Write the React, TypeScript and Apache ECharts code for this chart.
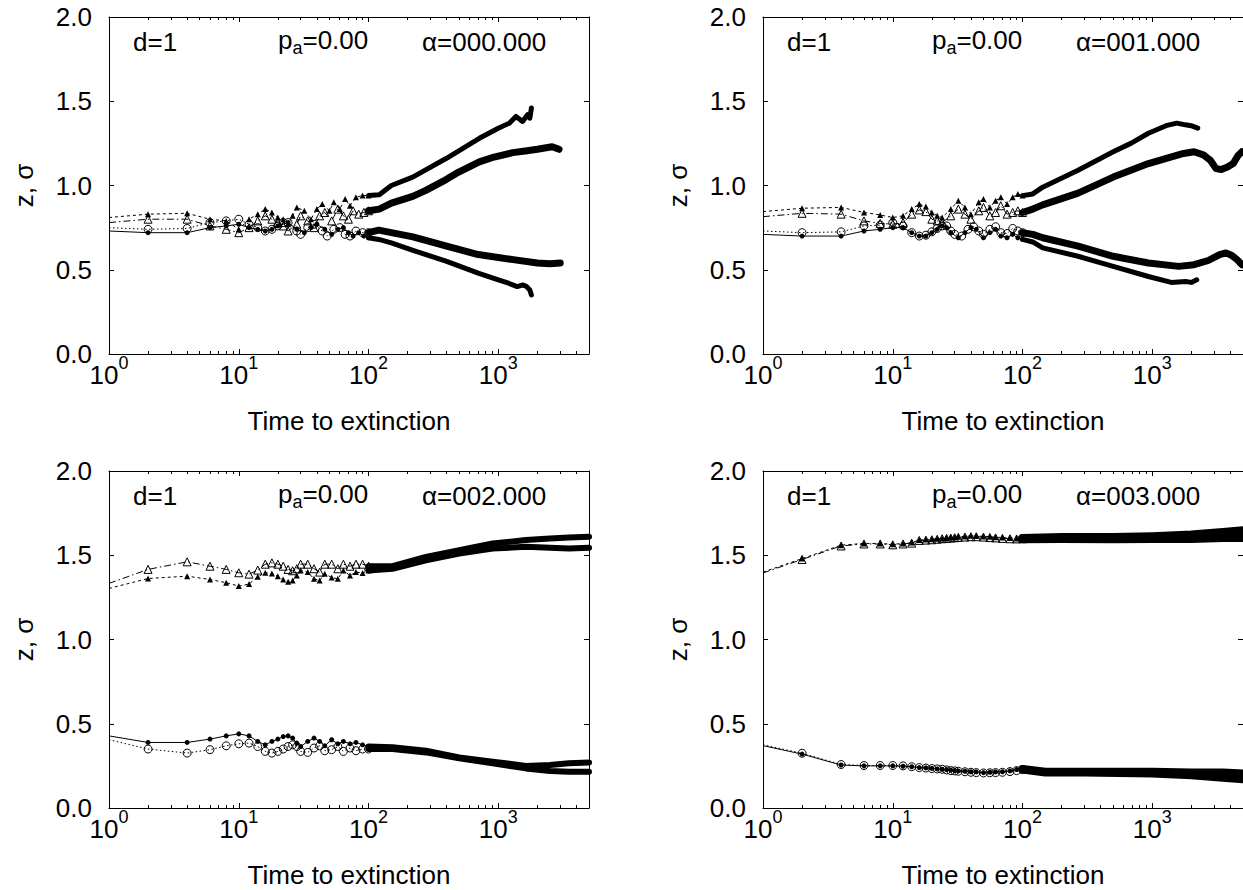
import React, { useEffect, useRef } from "react";
import * as echarts from "echarts";

type Pt = [number, number];

// ---------- tick values ----------
const xMajorTicks = [1, 10, 100, 1000];
const xMinorTicks = [2, 3, 4, 5, 6, 7, 8, 9, 20, 30, 40, 50, 60, 70, 80, 90, 200, 300, 400, 500, 600, 700, 800, 900, 2000, 3000, 4000];
const xMin = 1;
const xMax = 5000;
const yTicks = [0, 0.5, 1.0, 1.5, 2.0];
const alphaLabels = ["000.000", "001.000", "002.000", "003.000"];

// ---------- panel alpha = 0 (top left) ----------
const tlFcHead: Pt[] = [[1,0.73],[2,0.72],[4,0.72],[6,0.75],[8,0.76],[10,0.77],[12,0.75],[14,0.74],[16,0.73],[18,0.74],[20,0.76],[24,0.78],[28,0.74],[32,0.72],[36,0.75],[40,0.77],[46,0.74],[52,0.71],[58,0.74],[64,0.75],[70,0.72],[76,0.70],[84,0.72],[92,0.70],[100,0.69]];
const tlFcTail: Pt[] = [[100,0.69],[120,0.68],[150,0.66],[220,0.615],[400,0.55],[700,0.48],[1000,0.44],[1200,0.42],[1400,0.40],[1550,0.41],[1650,0.40],[1750,0.38],[1800,0.35]];
const tlOcHead: Pt[] = [[1,0.75],[2,0.74],[4,0.745],[6,0.78],[8,0.79],[10,0.80],[12,0.77],[14,0.75],[16,0.73],[18,0.74],[20,0.76],[22,0.78],[24,0.78],[28,0.73],[30,0.71],[34,0.75],[38,0.77],[44,0.73],[48,0.70],[54,0.74],[60,0.75],[66,0.71],[72,0.70],[80,0.73],[90,0.72],[100,0.72]];
const tlOcTail: Pt[] = [[100,0.72],[120,0.735],[150,0.72],[220,0.695],[400,0.64],[700,0.59],[1300,0.56],[2000,0.54],[2500,0.535],[3000,0.54]];
const tlFtHead: Pt[] = [[1,0.81],[2,0.83],[4,0.835],[6,0.80],[8,0.79],[10,0.74],[12,0.80],[14,0.83],[16,0.86],[18,0.84],[20,0.81],[22,0.80],[24,0.77],[26,0.82],[28,0.87],[32,0.85],[36,0.80],[40,0.86],[44,0.89],[50,0.85],[54,0.90],[60,0.86],[66,0.92],[72,0.88],[80,0.93],[90,0.94],[100,0.94]];
const tlFtTail: Pt[] = [[100,0.94],[121,0.945],[150,1.0],[219,1.05],[396,1.16],[714,1.28],[1000,1.34],[1216,1.37],[1368,1.41],[1538,1.38],[1681,1.42],[1750,1.40],[1800,1.46]];
const tlOtHead: Pt[] = [[1,0.78],[2,0.80],[4,0.80],[6,0.76],[8,0.74],[10,0.72],[12,0.75],[14,0.79],[16,0.82],[18,0.80],[20,0.78],[22,0.76],[24,0.73],[28,0.77],[30,0.82],[34,0.79],[38,0.75],[42,0.82],[46,0.84],[52,0.79],[58,0.86],[64,0.82],[70,0.80],[76,0.85],[84,0.83],[92,0.84],[100,0.85]];
const tlOtTail: Pt[] = [[100,0.85],[121,0.86],[150,0.895],[219,0.935],[274,0.97],[396,1.035],[495,1.08],[714,1.14],[893,1.165],[1290,1.195],[1616,1.205],[2000,1.215],[2600,1.23],[2940,1.215]];

// ---------- panel alpha = 1 (top right) ----------
const trFcHead: Pt[] = [[1,0.71],[2,0.70],[4,0.70],[6,0.73],[8,0.74],[10,0.75],[12,0.75],[14,0.72],[16,0.70],[18,0.70],[20,0.72],[22,0.74],[24,0.76],[26,0.75],[28,0.72],[32,0.69],[36,0.72],[40,0.75],[44,0.74],[50,0.69],[56,0.72],[62,0.74],[68,0.70],[76,0.69],[84,0.71],[92,0.69],[100,0.68]];
const trFcTail: Pt[] = [[100,0.68],[120,0.665],[143,0.63],[268,0.58],[500,0.52],[933,0.46],[1400,0.425],[1800,0.43],[2000,0.425],[2200,0.44]];
const trOcHead: Pt[] = [[1,0.73],[2,0.72],[4,0.725],[6,0.76],[8,0.765],[10,0.78],[12,0.76],[14,0.72],[16,0.70],[18,0.705],[20,0.725],[22,0.745],[24,0.76],[26,0.76],[28,0.73],[30,0.71],[34,0.70],[38,0.74],[42,0.755],[46,0.73],[50,0.71],[56,0.74],[62,0.755],[68,0.72],[76,0.715],[84,0.745],[92,0.73],[100,0.72]];
const trOcTail: Pt[] = [[100,0.72],[120,0.71],[143,0.69],[268,0.64],[500,0.58],[933,0.54],[1600,0.52],[2100,0.53],[2700,0.555],[3300,0.59],[3700,0.60],[4100,0.585],[4500,0.56],[4900,0.53]];
const trFtHead: Pt[] = [[1,0.845],[2,0.865],[4,0.87],[6,0.84],[8,0.825],[10,0.81],[12,0.82],[14,0.86],[16,0.89],[18,0.875],[20,0.84],[22,0.82],[24,0.81],[28,0.86],[32,0.91],[36,0.87],[40,0.83],[46,0.90],[50,0.92],[56,0.87],[62,0.91],[68,0.93],[76,0.89],[84,0.93],[92,0.95],[100,0.94]];
const trFtTail: Pt[] = [[100,0.94],[120,0.95],[143,0.99],[268,1.09],[500,1.20],[683,1.25],[933,1.31],[1276,1.355],[1544,1.37],[1800,1.36],[1990,1.355],[2240,1.34]];
const trOtHead: Pt[] = [[1,0.815],[2,0.835],[4,0.83],[6,0.79],[8,0.775],[10,0.77],[12,0.78],[14,0.83],[16,0.855],[18,0.845],[20,0.80],[22,0.79],[24,0.78],[28,0.82],[32,0.86],[36,0.83],[40,0.80],[46,0.85],[50,0.87],[56,0.82],[62,0.84],[68,0.88],[76,0.83],[84,0.84],[92,0.85],[100,0.84]];
const trOtTail: Pt[] = [[100,0.84],[120,0.86],[143,0.885],[268,0.955],[500,1.05],[933,1.13],[1740,1.19],[2100,1.20],[2500,1.18],[2800,1.15],[3100,1.10],[3400,1.095],[3800,1.11],[4200,1.13],[4600,1.18],[4900,1.20]];

// ---------- panel alpha = 2 (bottom left) ----------
const blFcHead: Pt[] = [[1,0.428],[2,0.389],[4,0.389],[6,0.409],[8,0.428],[10,0.44],[12,0.428],[14,0.395],[16,0.375],[18,0.395],[20,0.409],[22,0.424],[24,0.428],[26,0.415],[28,0.385],[30,0.365],[34,0.395],[38,0.415],[42,0.395],[46,0.369],[52,0.405],[58,0.381],[64,0.395],[72,0.381],[80,0.389],[90,0.375],[100,0.365]];
const blFcTail: Pt[] = [[100,0.365],[153,0.36],[277,0.34],[500,0.30],[904,0.275],[1633,0.25],[2500,0.255],[3500,0.265],[5000,0.27]];
const blOcHead: Pt[] = [[1,0.405],[2,0.35],[4,0.326],[6,0.346],[8,0.369],[10,0.381],[12,0.385],[14,0.365],[16,0.336],[18,0.326],[20,0.336],[22,0.35],[24,0.365],[26,0.375],[28,0.365],[30,0.336],[34,0.33],[38,0.356],[42,0.369],[46,0.34],[52,0.346],[58,0.365],[64,0.336],[72,0.356],[80,0.34],[90,0.35],[100,0.35]];
const blOcTail: Pt[] = [[100,0.35],[153,0.35],[277,0.33],[500,0.295],[904,0.265],[1633,0.235],[2500,0.22],[3500,0.215],[5000,0.215]];
const blFtHead: Pt[] = [[1,1.303],[2,1.362],[4,1.376],[6,1.356],[8,1.337],[10,1.317],[12,1.329],[14,1.372],[16,1.396],[18,1.392],[20,1.376],[22,1.356],[24,1.343],[26,1.35],[28,1.38],[30,1.41],[34,1.40],[38,1.36],[42,1.35],[46,1.39],[52,1.368],[58,1.36],[64,1.41],[72,1.38],[80,1.40],[90,1.395],[100,1.41]];
const blFtTail: Pt[] = [[100,1.41],[153,1.42],[277,1.47],[500,1.51],[904,1.54],[1633,1.55],[2500,1.545],[3500,1.54],[5000,1.545]];
const blOtHead: Pt[] = [[1,1.333],[2,1.416],[4,1.461],[6,1.435],[8,1.416],[10,1.396],[12,1.388],[14,1.412],[16,1.447],[18,1.455],[20,1.447],[22,1.435],[24,1.416],[26,1.408],[28,1.42],[30,1.447],[34,1.447],[38,1.42],[42,1.40],[46,1.447],[52,1.447],[58,1.42],[64,1.447],[72,1.435],[80,1.447],[90,1.447],[100,1.435]];
const blOtTail: Pt[] = [[100,1.435],[153,1.435],[277,1.49],[500,1.53],[904,1.57],[1633,1.59],[2500,1.60],[3500,1.605],[5000,1.61]];

// ---------- panel alpha = 3 (bottom right) ----------
const brFcHead: Pt[] = [[1,0.37],[2,0.32],[4,0.255],[6,0.25],[8,0.25],[10,0.25],[12,0.248],[14,0.245],[16,0.24],[18,0.238],[20,0.235],[22,0.232],[24,0.23],[26,0.228],[28,0.225],[30,0.222],[32,0.22],[36,0.218],[40,0.215],[44,0.214],[50,0.21],[56,0.212],[62,0.214],[70,0.215],[80,0.22],[90,0.228],[100,0.232]];
const brFcTail: Pt[] = [[100,0.232],[150,0.215],[300,0.215],[1000,0.215],[2000,0.21],[3500,0.21],[5000,0.205]];
const brOcHead: Pt[] = [[1,0.375],[2,0.325],[4,0.258],[6,0.252],[8,0.252],[10,0.252],[12,0.25],[14,0.245],[16,0.24],[18,0.237],[20,0.234],[22,0.232],[24,0.23],[26,0.226],[28,0.222],[30,0.22],[32,0.218],[36,0.215],[40,0.212],[44,0.21],[50,0.208],[56,0.209],[62,0.21],[70,0.212],[80,0.216],[90,0.222],[100,0.228]];
const brOcTail: Pt[] = [[100,0.228],[150,0.21],[300,0.21],[1000,0.205],[2000,0.195],[3500,0.18],[5000,0.17]];
const brFtHead: Pt[] = [[1,1.40],[2,1.48],[4,1.56],[6,1.57],[8,1.57],[10,1.565],[12,1.57],[14,1.575],[16,1.59],[18,1.593],[20,1.595],[22,1.598],[24,1.60],[26,1.602],[28,1.605],[30,1.607],[32,1.61],[36,1.612],[40,1.615],[44,1.614],[50,1.612],[56,1.61],[62,1.607],[70,1.605],[80,1.602],[90,1.60],[100,1.60]];
const brFtTail: Pt[] = [[100,1.60],[200,1.605],[500,1.605],[1000,1.61],[2000,1.62],[3500,1.635],[5000,1.645]];
const brOtHead: Pt[] = [[1,1.395],[2,1.475],[4,1.555],[6,1.567],[8,1.567],[10,1.562],[12,1.567],[14,1.572],[16,1.588],[18,1.59],[20,1.592],[22,1.595],[24,1.598],[26,1.6],[28,1.602],[30,1.604],[32,1.606],[36,1.608],[40,1.61],[44,1.61],[50,1.608],[56,1.605],[62,1.603],[70,1.60],[80,1.598],[90,1.597],[100,1.598]];
const brOtTail: Pt[] = [[100,1.598],[200,1.60],[500,1.598],[1000,1.60],[2000,1.60],[3500,1.605],[5000,1.605]];

const FONT = "'Liberation Sans', Arial, Helvetica, sans-serif";

type Curve = { head: Pt[]; tail: Pt[]; kind: "fc" | "oc" | "ft" | "ot"; w: number };
type Panel = { left: number; top: number; curves: Curve[] };

const panels: Panel[] = [
  { left: 109, top: 17, curves: [
    { head: tlFcHead, tail: tlFcTail, kind: "fc", w: 5 },
    { head: tlOcHead, tail: tlOcTail, kind: "oc", w: 7 },
    { head: tlFtHead, tail: tlFtTail, kind: "ft", w: 5 },
    { head: tlOtHead, tail: tlOtTail, kind: "ot", w: 7 },
  ] },
  { left: 763, top: 17, curves: [
    { head: trFcHead, tail: trFcTail, kind: "fc", w: 5 },
    { head: trOcHead, tail: trOcTail, kind: "oc", w: 7 },
    { head: trFtHead, tail: trFtTail, kind: "ft", w: 5 },
    { head: trOtHead, tail: trOtTail, kind: "ot", w: 7 },
  ] },
  { left: 109, top: 471, curves: [
    { head: blFcHead, tail: blFcTail, kind: "fc", w: 6 },
    { head: blOcHead, tail: blOcTail, kind: "oc", w: 6 },
    { head: blFtHead, tail: blFtTail, kind: "ft", w: 6 },
    { head: blOtHead, tail: blOtTail, kind: "ot", w: 6 },
  ] },
  { left: 763, top: 471, curves: [
    { head: brFcHead, tail: brFcTail, kind: "fc", w: 8 },
    { head: brOcHead, tail: brOcTail, kind: "oc", w: 8 },
    { head: brFtHead, tail: brFtTail, kind: "ft", w: 9 },
    { head: brOtHead, tail: brOtTail, kind: "ot", w: 9 },
  ] },
];

const W = 480;
const H = 337;

const kindStyle: Record<string, { symbol: string; size: number; fill: string; dash: any }> = {
  fc: { symbol: "circle", size: 5, fill: "#000", dash: "solid" },
  oc: { symbol: "circle", size: 8, fill: "rgba(0,0,0,0)", dash: [1.5, 2.5] },
  ft: { symbol: "triangle", size: 6, fill: "#000", dash: [3, 3] },
  ot: { symbol: "triangle", size: 8, fill: "rgba(0,0,0,0)", dash: [7, 3, 1.5, 3] },
};

function buildOption() {
  const grid: any[] = [];
  const xAxis: any[] = [];
  const yAxis: any[] = [];
  const series: any[] = [];
  const graphic: any[] = [];
  const logMax = Math.log10(xMax);
  const majorLog = xMajorTicks.map((v) => Math.log10(v));
  const minorLog = xMinorTicks.map((v) => Math.log10(v));
  const line = { show: true, onZero: false, lineStyle: { color: "#000", width: 1 } };

  panels.forEach((p, g) => {
    grid.push({ left: p.left, top: p.top, width: W, height: H, containLabel: false, outerBoundsMode: "none" });
    // data axis (log scale)
    xAxis.push({ gridIndex: g, type: "log", logBase: 10, min: xMin, max: xMax, show: false, position: "bottom" });
    // bottom major ticks + labels
    xAxis.push({
      gridIndex: g, type: "value", min: 0, max: logMax, position: "bottom",
      axisLine: line,
      splitLine: { show: false },
      axisTick: { show: true, inside: true, length: 5, customValues: majorLog, lineStyle: { color: "#000" } },
      axisLabel: {
        show: true, customValues: majorLog, margin: 4, color: "#000",
        formatter: (v: number) => `{b|10}{s|${Math.round(v)}}`,
        rich: {
          b: { fontSize: 26, fontFamily: FONT, color: "#000", verticalAlign: "bottom", lineHeight: 30 },
          s: { fontSize: 18, fontFamily: FONT, color: "#000", verticalAlign: "bottom", lineHeight: 30, padding: [0, 0, 16, 0] },
        },
      },
    });
    // bottom minor ticks
    xAxis.push({
      gridIndex: g, type: "value", min: 0, max: logMax, position: "bottom",
      axisLine: { show: false, onZero: false }, splitLine: { show: false }, axisLabel: { show: false },
      axisTick: { show: true, inside: true, length: 3, customValues: minorLog, lineStyle: { color: "#000" } },
    });
    // top major ticks
    xAxis.push({
      gridIndex: g, type: "value", min: 0, max: logMax, position: "top",
      axisLine: line, splitLine: { show: false }, axisLabel: { show: false },
      axisTick: { show: true, inside: true, length: 5, customValues: majorLog, lineStyle: { color: "#000" } },
    });
    // top minor ticks
    xAxis.push({
      gridIndex: g, type: "value", min: 0, max: logMax, position: "top",
      axisLine: { show: false, onZero: false }, splitLine: { show: false }, axisLabel: { show: false },
      axisTick: { show: true, inside: true, length: 3, customValues: minorLog, lineStyle: { color: "#000" } },
    });
    yAxis.push({
      gridIndex: g, type: "value", min: 0, max: 2, interval: 0.5, position: "left",
      axisLine: line, splitLine: { show: false },
      axisTick: { show: true, inside: true, length: 5, customValues: yTicks, lineStyle: { color: "#000" } },
      axisLabel: { show: true, margin: 17, color: "#000", fontSize: 26, fontFamily: FONT, formatter: (v: number) => v.toFixed(1) },
    });
    yAxis.push({
      gridIndex: g, type: "value", min: 0, max: 2, interval: 0.5, position: "right",
      axisLine: line, splitLine: { show: false }, axisLabel: { show: false },
      axisTick: { show: true, inside: true, length: 5, lineStyle: { color: "#000" } },
    });

    p.curves.forEach((c) => {
      const st = kindStyle[c.kind];
      series.push({
        type: "line", xAxisIndex: g * 5, yAxisIndex: g * 2, data: c.tail,
        symbol: "none", silent: true, z: 2, emphasis: { disabled: true },
        lineStyle: { color: "#000", width: c.w, cap: "round", join: "round" },
      });
      series.push({
        type: "line", xAxisIndex: g * 5, yAxisIndex: g * 2,
        data: c.head.map((pt, i) => (i === 0 ? { value: pt, symbol: "none" } : pt)),
        symbol: st.symbol, symbolSize: st.size, showSymbol: true, silent: true, z: 3,
        emphasis: { disabled: true },
        itemStyle: { color: st.fill, borderColor: "#000", borderWidth: st.fill === "#000" ? 0 : 1 },
        lineStyle: { color: "#000", width: 1, type: st.dash },
      });
    });

    const ty = p.top + 25;
    graphic.push({
      type: "text", x: p.left + 24, y: ty,
      style: { text: "d=1", fontSize: 26, fontFamily: FONT, fill: "#000", verticalAlign: "middle", textVerticalAlign: "middle" },
    });
    graphic.push({
      type: "text", x: p.left + 169, y: ty,
      style: {
        text: "{m|p}{u|a}{m|=0.00}", fill: "#000", verticalAlign: "middle", textVerticalAlign: "middle",
        rich: {
          m: { fontSize: 26, fontFamily: FONT, fill: "#000", verticalAlign: "bottom", padding: [0, 0, 4, 0] },
          u: { fontSize: 18, fontFamily: FONT, fill: "#000", verticalAlign: "bottom" },
        },
      },
    });
    graphic.push({
      type: "text", x: p.left + 313, y: ty,
      style: { text: "α=" + alphaLabels[g], fontSize: 26, fontFamily: FONT, fill: "#000", verticalAlign: "middle", textVerticalAlign: "middle" },
    });
    graphic.push({
      type: "text", x: p.left + W / 2, y: p.top + H + 67,
      style: { text: "Time to extinction", fontSize: 26, fontFamily: FONT, fill: "#000", align: "center", textAlign: "center", verticalAlign: "middle", textVerticalAlign: "middle" },
    });
    graphic.push({
      type: "text", x: p.left - 85, y: p.top + H / 2, rotation: Math.PI / 2,
      style: { text: "z, σ", fontSize: 26, fontFamily: FONT, fill: "#000", align: "center", textAlign: "center", verticalAlign: "middle", textVerticalAlign: "middle" },
    });
  });

  return {
    animation: false,
    backgroundColor: "#fff",
    textStyle: { fontFamily: FONT },
    grid, xAxis, yAxis, series, graphic,
  };
}

export default function App() {
  const ref = useRef<HTMLDivElement>(null);
  useEffect(() => {
    if (!ref.current) return;
    const chart = echarts.init(ref.current, undefined, { renderer: "svg" });
    chart.setOption(buildOption() as any);
    return () => chart.dispose();
  }, []);
  return <div ref={ref} style={{ position: "absolute", left: 0, top: 0, width: 1243, height: 890 }} />;
}
